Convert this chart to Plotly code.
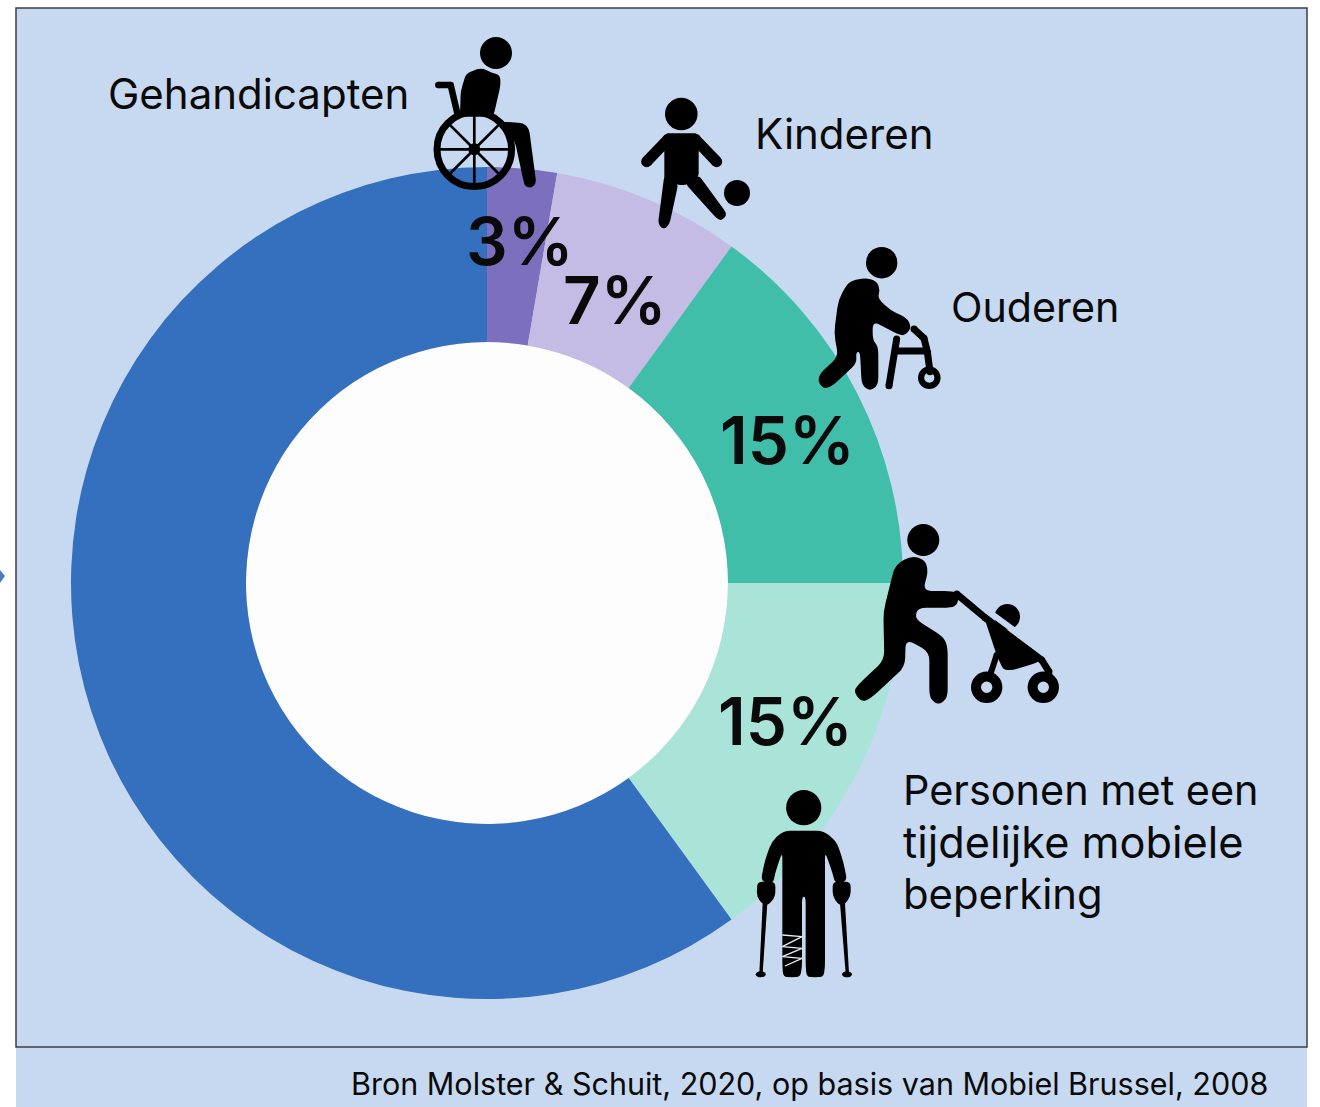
import math
import plotly.graph_objects as go

W, H = 1320, 1107
CX, CY, R_OUT, R_IN = 487, 583, 416, 241

# chart data, clockwise from the top
groups = ["Gehandicapten", "Kinderen", "Ouderen", "Personen met een tijdelijke mobiele beperking", "Overig"]
shares = [2.7, 7.3, 15, 15, 60]  # as drawn, the first two are printed rounded
share_labels = ["3%", "7%", "15%", "15%"]
colors = ["#7C6FBD", "#C5BCE5", "#40BEAA", "#AAE3D7", "#3470BE"]
source_text = "Bron Molster &amp; Schuit, 2020, op basis van Mobiel Brussel, 2008"

BG = "#C7D9F1"
INK = "#000000"
shapes = []


def px(x):
    return x / W


def py(y):
    return 1 - y / H


def pt(x, y):
    return f"{px(x):.5f},{py(y):.5f}"


def add_path(points, fill=INK):
    d = "M " + " L ".join(pt(x, y) for x, y in points) + " Z"
    shapes.append(dict(type="path", path=d, xref="paper", yref="paper",
                       fillcolor=fill, line=dict(width=0), layer="above"))


def add_outline(points, radius=6, fill=INK):
    # polygon with rounded corners, the icons have no sharp edges
    n = len(points)
    parts = []
    for i, (x, y) in enumerate(points):
        xa, ya = points[i - 1]
        xb, yb = points[(i + 1) % n]
        da, db = math.hypot(xa - x, ya - y), math.hypot(xb - x, yb - y)
        ra, rb = min(radius, da * 0.45), min(radius, db * 0.45)
        p0 = (x + (xa - x) * ra / da, y + (ya - y) * ra / da)
        p1 = (x + (xb - x) * rb / db, y + (yb - y) * rb / db)
        parts.append(("M " if i == 0 else "L ") + pt(*p0) + " Q " + pt(x, y) + " " + pt(*p1))
    shapes.append(dict(type="path", path=" ".join(parts) + " Z", xref="paper", yref="paper",
                       fillcolor=fill, line=dict(width=0), layer="above"))


def add_circle(x, y, r, fill=INK, ring=0, rx=None, layer="above"):
    rx = r if rx is None else rx
    shapes.append(dict(type="circle", xref="paper", yref="paper",
                       x0=px(x - rx), x1=px(x + rx), y0=py(y + r), y1=py(y - r),
                       fillcolor=fill, layer=layer,
                       line=dict(width=ring, color=INK)))


def add_limb(points, width, fill=INK, caps=True):
    # thick line with round ends, shapes have no linecap option
    for (x0, y0), (x1, y1) in zip(points, points[1:]):
        d = math.hypot(x1 - x0, y1 - y0)
        nx, ny = (y0 - y1) / d * width / 2, (x1 - x0) / d * width / 2
        add_path([(x0 + nx, y0 + ny), (x1 + nx, y1 + ny), (x1 - nx, y1 - ny), (x0 - nx, y0 - ny)], fill)
    if caps:
        for x, y in points:
            add_circle(x, y, width / 2, fill)


def crop(ox, oy, points):
    return [(ox + x / 3, oy + y / 3) for x, y in points]


def wheelchair():
    o = (420, 20)
    add_circle(496, 53, 16)
    add_outline(crop(*o, [(185, 143), (215, 158), (240, 165), (242, 195), (220, 290), (120, 290),
                          (122, 215), (138, 160)]), 5)
    add_limb(crop(*o, [(55, 195), (92, 195), (112, 280)]), 6.5)
    add_outline(crop(*o, [(245, 305), (310, 309), (327, 325), (349, 490), (335, 503), (318, 501),
                          (312, 490), (285, 365), (262, 330)]), 5)
    cx, cy = 474.3, 149.3
    add_circle(cx, cy, 37.3, fill="rgba(0,0,0,0)", ring=7)
    for k in range(8):
        a = k * math.pi / 4
        add_limb([(cx, cy), (cx + 36 * math.cos(a), cy + 36 * math.sin(a))], 2.7, caps=False)
    add_circle(cx, cy, 6)


def kid():
    o = (420, 20)
    add_circle(681.3, 114, 16.3)
    add_outline(crop(*o, [(740, 340), (828, 340), (836, 350), (836, 470), (800, 495), (775, 495),
                          (733, 480), (733, 350)]), 3)
    add_limb(crop(*o, [(745, 357), (680, 425)]), 11)
    add_limb(crop(*o, [(825, 357), (890, 425)]), 11)
    add_outline(crop(*o, [(733, 465), (775, 490), (748, 615), (730, 628), (714, 612)]), 5)
    add_outline(crop(*o, [(836, 465), (922, 583), (905, 602), (890, 595), (795, 490)]), 5)
    add_circle(737, 193, 13)


def elder():
    o = (810, 235)
    add_circle(881.7, 262.7, 15.7)
    add_outline(crop(*o, [(115, 140), (165, 128), (200, 138), (210, 165), (203, 190), (240, 225),
                          (292, 250), (304, 278), (285, 302), (265, 298), (188, 258), (188, 315),
                          (205, 335), (205, 450), (180, 468), (155, 450), (150, 350), (138, 352),
                          (140, 385), (68, 452), (42, 462), (24, 440), (30, 415), (85, 365),
                          (72, 295), (85, 195)]), 8)
    add_limb(crop(*o, [(260, 312), (237, 452)]), 7)
    add_limb(crop(*o, [(255, 348), (345, 348)]), 7, caps=False)
    add_limb(crop(*o, [(312, 282), (342, 310), (352, 350), (360, 410)]), 7)
    add_circle(929.3, 377.7, 8.2, fill="rgba(0,0,0,0)", ring=6.2)


def stroller():
    o = (845, 515)
    add_circle(923.3, 540, 16)
    add_outline(crop(*o, [(200, 122), (240, 135), (250, 170), (233, 228), (325, 228), (342, 240),
                          (337, 268), (320, 278), (218, 278), (210, 312), (295, 365), (308, 395),
                          (308, 550), (280, 570), (253, 550), (253, 410), (182, 372), (180, 455),
                          (80, 548), (50, 562), (26, 530), (40, 508), (118, 435), (115, 290),
                          (150, 150)]), 9)
    add_circle(1007.3, 616.7, 12.7)
    add_limb(crop(*o, [(435, 293), (515, 352)]), 6, fill=BG, caps=False)
    add_limb(crop(*o, [(335, 237), (420, 308), (590, 435), (612, 470)]), 7)
    add_outline(crop(*o, [(420, 315), (590, 435), (570, 445), (505, 465), (475, 465), (455, 420)]), 4)
    add_limb(crop(*o, [(455, 420), (438, 472)]), 6)
    add_circle(986.7, 687.3, 10.7, fill="rgba(0,0,0,0)", ring=10)
    add_circle(1043.3, 687.3, 10.7, fill="rgba(0,0,0,0)", ring=10)


def crutches():
    o = (740, 780)
    add_circle(803.7, 807.7, 17.6)
    add_outline(crop(*o, [(130, 152), (250, 152), (290, 185), (310, 245), (322, 305), (285, 310),
                          (278, 280), (255, 215), (255, 565), (250, 590), (225, 592), (200, 590),
                          (197, 560), (197, 350), (186, 350), (186, 565), (180, 590), (155, 592),
                          (130, 590), (127, 560), (127, 215), (105, 280), (100, 310), (62, 305),
                          (75, 240), (95, 185)]), 7)
    add_outline(crop(*o, [(52, 305), (106, 305), (106, 350), (85, 375), (70, 375), (50, 350)]), 5)
    add_outline(crop(*o, [(278, 305), (332, 305), (332, 350), (312, 375), (297, 375), (278, 350)]), 5)
    add_path(crop(*o, [(68, 370), (82, 370), (68, 580), (58, 580)]))
    add_path(crop(*o, [(300, 370), (315, 370), (327, 580), (317, 580)]))
    add_circle(760.7, 974.3, 3, rx=5)
    add_circle(847, 974.3, 3, rx=5)
    # bandage on the left leg
    bandage = [(127, 465), (186, 470), (127, 500), (186, 505), (127, 530), (186, 535), (135, 558)]
    add_limb(crop(*o, bandage), 1.3, fill="#E8EEF8", caps=False)


# page background parts
shapes.append(dict(type="rect", xref="paper", yref="paper", x0=px(16), x1=px(1307), y0=py(1107), y1=py(8),
                   fillcolor=BG, line=dict(width=0), layer="below"))
shapes.append(dict(type="rect", xref="paper", yref="paper", x0=px(16), x1=px(1307), y0=py(1047), y1=py(8),
                   fillcolor="rgba(0,0,0,0)", line=dict(width=1.5, color="#3C3F46"), layer="below"))
shapes.append(dict(type="path", xref="paper", yref="paper", layer="below", fillcolor="#4A7CC4", line=dict(width=0),
                   path=f"M {px(0)},{py(570)} L {px(5)},{py(576)} L {px(0)},{py(583)} Z"))
add_circle(CX, CY, R_IN, fill="#FDFDFE", layer="below")

wheelchair()
kid()
elder()
stroller()
crutches()

annotations = []


def add_text(x, y, text, size, weight=400, anchor="left"):
    annotations.append(dict(x=px(x), y=py(y), xref="paper", yref="paper", text=text, showarrow=False,
                            xanchor=anchor, yanchor="middle", align=anchor,
                            font=dict(family="Inter, sans-serif", size=size, color="#0A0A0A", weight=weight)))


add_text(106, 94, "Gehandicapten", 42)
add_text(753, 134, "Kinderen", 42)
add_text(949, 307, "Ouderen", 41.2)
add_text(901, 790, "Personen met een", 41.4)
add_text(901, 842, "tijdelijke mobiele", 43.3)
add_text(901, 894, "beperking", 41.8)
add_text(1270, 1083, source_text, 30.5, anchor="right")

# value labels do not sit at the slice centres in the original
label_pos = [(519, 242), (615, 301), (787, 440), (785, 721)]
for (x, y), label in zip(label_pos, share_labels):
    add_text(x, y, label, 65.5, weight=600, anchor="center")

fig = go.Figure(go.Pie(
    labels=groups,
    values=shares,
    marker=dict(colors=colors, line=dict(width=0)),
    hole=R_IN / R_OUT,
    sort=False,
    direction="clockwise",
    rotation=0,
    textinfo="none",
    showlegend=False,
    domain=dict(x=[px(CX - R_OUT), px(CX + R_OUT)], y=[py(CY + R_OUT), py(CY - R_OUT)]),
))

fig.update_layout(
    width=W,
    height=H,
    margin=dict(l=0, r=0, t=0, b=0),
    paper_bgcolor="#FFFFFF",
    shapes=shapes,
    annotations=annotations,
)

fig.write_html("out.html", config={"displayModeBar": False},
               post_script="document.body.style.margin='0';")
